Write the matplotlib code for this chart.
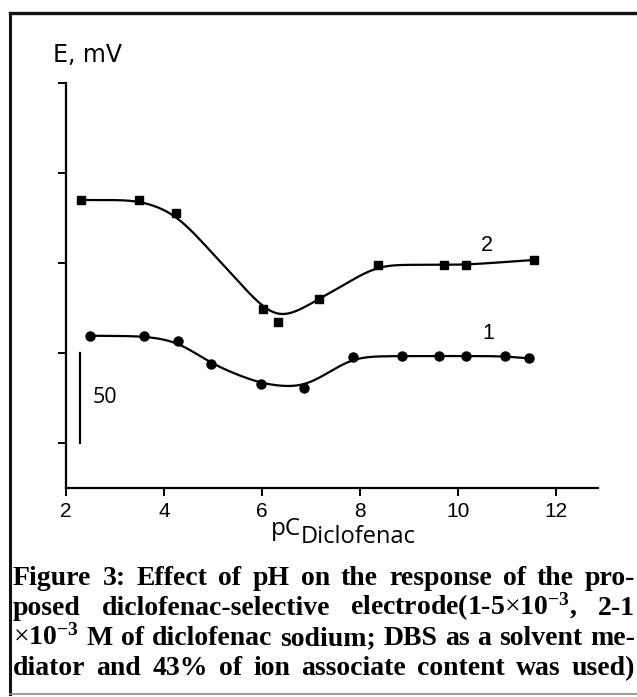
import numpy as np
import matplotlib
matplotlib.use("Agg")
import matplotlib.pyplot as plt
from matplotlib.lines import Line2D

# Data (E in mV, arbitrary zero)
# ----------
pc_1 = [2.49, 3.59, 4.29, 4.97, 5.99, 6.86, 7.86, 8.86, 9.62, 10.16, 10.96, 11.45]
e_1 = [84.6, 84.4, 81.7, 68.7, 57.6, 55.4, 73.0, 73.3, 73.3, 73.3, 73.3, 72.0]
pc_2 = [2.30, 3.50, 4.24, 6.03, 6.33, 7.17, 8.37, 9.71, 10.16, 11.56]
e_2 = [160.0, 160.0, 152.8, 99.4, 92.0, 105.0, 124.0, 124.0, 124.0, 126.7]
x_ticks = [2, 4, 6, 8, 10, 12]
y_ticks = [25, 75, 125, 175, 225]
caption = [
    r"Figure 3: Effect of pH on the response of the pro-",
    r"posed diclofenac-selective electrode(1-5$\times$10$^{\mathbf{-3}}$, 2-1",
    r"$\times$10$^{\mathbf{-3}}$ M of diclofenac sodium; DBS as a solvent me-",
    r"diator and 43% of ion associate content was used)",
]
# ----------

plt.rcParams["mathtext.fontset"] = "custom"
plt.rcParams["mathtext.rm"] = "Liberation Serif"
plt.rcParams["mathtext.bf"] = "Liberation Serif:bold"
plt.rcParams["mathtext.it"] = "Liberation Serif:italic"


def smooth_curve(x, y, sigma=0.3, n=800):
    # linear interpolation, then a gaussian blur to get a smooth trend line
    x = np.asarray(x, float)
    y = np.asarray(y, float)
    xs = np.linspace(x[0], x[-1], n)
    ys = np.interp(xs, x, y)
    dx = xs[1] - xs[0]
    half = int(4 * sigma / dx)
    k = np.exp(-0.5 * (np.arange(-half, half + 1) * dx / sigma) ** 2)
    k /= k.sum()
    ypad = np.pad(ys, half, mode="reflect", reflect_type="odd")
    return xs, np.convolve(ypad, k, mode="valid")


W, H = 637, 697
fig = plt.figure(figsize=(W / 100, H / 100), dpi=100, facecolor="white")

# axes placed in pixel units of the reference
ax = fig.add_axes([66 / W, 1 - 488 / H, (598 - 66) / W, (488 - 83) / H])
ax.set_xlim(2, 12.86)
ax.set_ylim(0, 225)
for side in ("top", "right"):
    ax.spines[side].set_visible(False)
for side in ("left", "bottom"):
    ax.spines[side].set_linewidth(1.6)
ax.set_xticks(x_ticks)
ax.set_xticklabels([str(v) for v in x_ticks], fontsize=15, family="Liberation Sans")
ax.set_yticks(y_ticks)
ax.set_yticklabels([])
ax.tick_params(axis="both", direction="out", length=6, width=1.4)
ax.tick_params(axis="x", pad=4)

# curves and points
for xs_, ys_, mk, ms in [(pc_1, e_1, "o", 6.5), (pc_2, e_2, "s", 6.2)]:
    cx, cy = smooth_curve(xs_, ys_, sigma=0.3)
    ax.plot(cx, cy, color="black", lw=1.6, zorder=2)
    ax.plot(xs_, ys_, ls="none", marker=mk, ms=ms, color="black", zorder=3)

ax.text(10.62, 86, "1", fontsize=15.5, family="Liberation Sans", ha="center", va="center")
ax.text(10.59, 134.6, "2", fontsize=15.5, family="Liberation Sans", ha="center", va="center")

# 50 mV scale bar
ax.plot([2.29, 2.29], [25, 75], color="black", lw=1.6, clip_on=False)
ax.text(2.55, 50.5, "50", fontsize=15.5, family="Open Sans", ha="left", va="center")

# axis titles
fig.text(53 / W, 1 - 62 / H, "E, mV", fontsize=17, family="DejaVu Sans",
         ha="left", va="baseline")
fig.text(271 / W, 1 - 535 / H, "pC", fontsize=17.5, family="Open Sans",
         ha="left", va="baseline")
fig.text(301 / W, 1 - 543 / H, "Diclofenac", fontsize=17, family="Open Sans",
         ha="left", va="baseline")

# outer frame
fig.add_artist(Line2D([10 / W, 10 / W], [1 - 13 / H, 1 - 694 / H], color="#111111",
                      lw=2.2, transform=fig.transFigure))
fig.add_artist(Line2D([10 / W, 1.0], [1 - 13 / H, 1 - 13 / H], color="#111111",
                      lw=2.4, transform=fig.transFigure))
fig.add_artist(Line2D([10 / W, 1.0], [1 - 694 / H, 1 - 694 / H], color="#888888",
                      lw=1.2, transform=fig.transFigure))

# justified bold caption, placed word by word
fig.canvas.draw()
renderer = fig.canvas.get_renderer()
cap_family = "Liberation Serif"
x0, x1 = 13, 635
baselines = [585, 615, 645, 675]

for line, base in zip(caption, baselines):
    words = line.split(" ")
    fs = 20
    while True:
        arts = [fig.text(0, 1 - base / H, w, fontsize=fs, family=cap_family,
                         weight="bold", ha="left", va="baseline") for w in words]
        ws = [a.get_window_extent(renderer).width for a in arts]
        gap = (x1 - x0 - sum(ws)) / (len(words) - 1)
        if gap >= 4 or fs < 12:
            break
        for a in arts:
            a.remove()
        fs -= 0.5
    xp = x0
    for a, wd in zip(arts, ws):
        a.set_x(xp / W)
        xp += wd + gap

fig.savefig("out.png", dpi=100, facecolor="white")
